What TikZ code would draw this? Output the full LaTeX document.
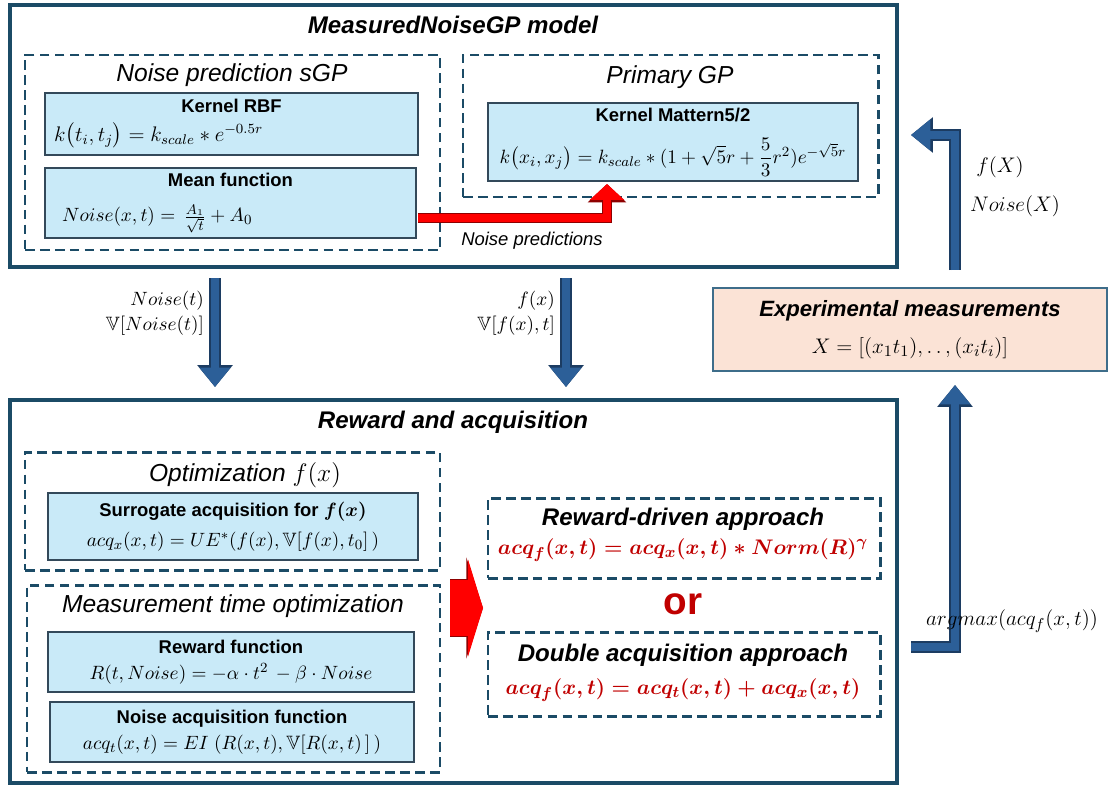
\documentclass[tikz,border=0pt]{standalone}
\usepackage{amsmath,amssymb}
\usepackage[no-math]{fontspec}
\setmainfont{Liberation Sans}
\usepackage{tikz}
\usetikzlibrary{arrows.meta,positioning,fit,calc}
\definecolor{GpNavy}{HTML}{1B4B66}
\definecolor{GpSlate}{HTML}{33495A}
\definecolor{GpSky}{HTML}{C9EAF8}
\definecolor{GpPeach}{HTML}{FBE3D6}
\definecolor{GpPeachEdge}{HTML}{3E6D8A}
\definecolor{GpArrow}{HTML}{2C5F98}
\definecolor{GpArrowDark}{HTML}{1C3C62}
\definecolor{GpRed}{HTML}{FF0000}
\definecolor{GpRedDark}{HTML}{8E0000}
\definecolor{GpWine}{HTML}{C00000}
\newcommand{\boxhead}[1]{{\fontsize{10.5}{13}\selectfont\bfseries #1}}

\begin{document}
\begin{tikzpicture}[
  x=0.02cm,y=-0.02cm,
  outerbox/.style={draw=GpNavy,line width=2pt,inner sep=0pt},
  dashbox/.style={draw=GpNavy,line width=1.7pt,dash pattern=on 5.5pt off 3pt,inner sep=0pt},
  skybox/.style={draw=GpSlate,fill=GpSky,line width=1pt,inner sep=0pt,align=center,
    font=\fontsize{11}{15}\selectfont},
  boxtitle/.style={font=\fontsize{13.7}{16}\selectfont\bfseries\itshape},
  subtitle/.style={font=\fontsize{14}{16}\selectfont\itshape},
  redformula/.style={font=\fontsize{12.3}{15}\selectfont\boldmath,text=GpWine},
  mathlabel/.style={font=\fontsize{11}{14}\selectfont,inner sep=1pt},
  bluearrow/.style={draw=GpArrow,line width=5.1pt,-{Triangle[length=11pt,width=17pt]},
    preaction={draw=GpArrowDark,line width=6.3pt,-{Triangle[length=12.5pt,width=19.5pt]}}},
  redarrow/.style={draw=GpRed,line width=5pt,-{Triangle[length=9pt,width=19pt]},
    preaction={draw=GpRedDark,line width=6.2pt,-{Triangle[length=10.5pt,width=21.5pt]}}}
]
  \useasboundingbox (0,0) rectangle (1113,785);

  % MeasuredNoiseGP model
  \node[outerbox,fit={(10,5) (897,267)}] (gpmodel) {};
  \node[boxtitle] (gptitle) at (453,25) {MeasuredNoiseGP model};

  \node[dashbox,fit={(25,55) (440,250)}] (sgpbox) {};
  \node[subtitle] (sgptitle) at (232,75) {Noise prediction sGP};
  \node[skybox,minimum width=7.46cm,minimum height=1.24cm] (rbfbox) at (231.5,124)
    {\boxhead{Kernel RBF}\\[1pt] \makebox[7.1cm][l]{\fontsize{12}{14}\selectfont$k\bigl(t_i,t_j\bigr)=k_{scale}*e^{-0.5r}$}};
  \node[skybox,minimum width=7.42cm,minimum height=1.4cm] (meanbox) at (230.5,203)
    {\boxhead{Mean function}\\[5pt] \makebox[7.1cm][l]{\hspace{0.18cm}$Noise(x,t)=\,\frac{A_1}{\sqrt{t}}+A_0$}};

  \node[dashbox,fit={(463,55) (878,197)}] (primbox) {};
  \node[subtitle] (primtitle) at (670,77) {Primary GP};
  \node[skybox,minimum width=7.4cm,minimum height=1.56cm] (matbox) at (673,142)
    {\boxhead{Kernel Mattern5/2}\\[9pt] $k\bigl(x_i,x_j\bigr)=k_{scale}*(1+\sqrt{5}r+\dfrac{5}{3}r^2)e^{-\sqrt{5}r}$};

  \coordinate (npstart) at (418,218);
  \coordinate (npend) at (607,184);
  \draw[redarrow] (npstart) -| (npend);
  \node[font=\fontsize{10.5}{12}\selectfont\itshape] (nplabel) at (532,241) {Noise predictions};

  % outputs of the two GPs
  \coordinate (noisetop) at (215,278);
  \coordinate (noisebot) at (215,387);
  \draw[bluearrow] (noisetop) -- (noisebot);
  \node[mathlabel,align=right,anchor=east] (noiselabel) at (206,313)
    {$Noise(t)$\\ $\mathbb{V}[Noise(t)]$};
  \coordinate (ftop) at (566,278);
  \coordinate (fbot) at (566,387);
  \draw[bluearrow] (ftop) -- (fbot);
  \node[mathlabel,align=right,anchor=east] (flabel) at (557,313)
    {$f(x)$\\ $\mathbb{V}[f(x),t]$};

  % measurements
  \node[draw=GpPeachEdge,fill=GpPeach,line width=1pt,inner sep=0pt,align=center,
    minimum width=7.88cm,minimum height=1.66cm] (expbox) at (910,329.5)
    {{\fontsize{12.6}{15}\selectfont\bfseries\itshape Experimental measurements}\\[9pt]
     {\fontsize{12.5}{14}\selectfont $X=[(x_1t_1),.\,.\,,(x_it_i)]$}};
  \coordinate (fxsrc) at (955,270);
  \coordinate (fxdst) at (911,135);
  \draw[bluearrow] (fxsrc) |- (fxdst);
  \node[mathlabel,font=\fontsize{12}{14}\selectfont] (fXlabel) at (1000,167) {$f(X)$};
  \node[mathlabel,font=\fontsize{12}{14}\selectfont] (noiseXlabel) at (1015,206) {$Noise(X)$};
  \coordinate (amsrc) at (911,647);
  \coordinate (amdst) at (955,385);
  \draw[bluearrow] (amsrc) -| (amdst);
  \node[mathlabel,font=\fontsize{12.5}{14}\selectfont] (amlabel) at (1012,621) {$argmax(acq_f(x,t))$};

  % Reward and acquisition
  \node[outerbox,fit={(10,400) (897,783)}] (rabox) {};
  \node[boxtitle] (ratitle) at (453,422) {Reward and acquisition};

  \node[dashbox,fit={(25,452) (440,570)}] (optbox) {};
  \node[subtitle] (opttitle) at (245,475) {Optimization $f(x)$};
  \node[skybox,minimum width=7.4cm,minimum height=1.34cm] (surbox) at (233,526.5)
    {\boxhead{Surrogate acquisition for $\boldsymbol{f(x)}$}\\[2pt]
     $acq_x(x,t)=UE^*(f(x),\mathbb{V}[f(x),t_0]\,)$};

  \node[dashbox,fit={(27,585) (440,772)}] (measbox) {};
  \node[subtitle] (meastitle) at (233,606) {Measurement time optimization};
  \node[skybox,minimum width=7.32cm,minimum height=1.2cm] (rewbox) at (231,662)
    {\boxhead{Reward function}\\ $R(t,Noise)=-\alpha\cdot t^2\,-\beta\cdot Noise$};
  \node[skybox,minimum width=7.28cm,minimum height=1.2cm] (nacqbox) at (232,732)
    {\boxhead{Noise acquisition function}\\ $acq_t(x,t)=EI\ (R(x,t),\mathbb{V}[R(x,t)\,]\,)$};

  \coordinate (blocksrc) at (450,608);
  \coordinate (blockdst) at (483,608);
  \draw[draw=GpRed,line width=32pt,-{Triangle[length=8.5pt,width=55pt]},
    preaction={draw=GpRedDark,line width=33.5pt,-{Triangle[length=9.5pt,width=57.5pt]}}]
    (blocksrc) -- (blockdst);

  \node[dashbox,fit={(488,498) (880,578)}] (rdbox) {};
  \node[boxtitle] (rdtitle) at (683,519) {Reward-driven approach};
  \node[redformula] (rdformula) at (683,550) {$acq_f(x,t)=acq_x(x,t)*Norm(R)^\gamma$};
  \node[font=\fontsize{22}{24}\selectfont\bfseries,text=GpWine] (ortext) at (683,604) {or};
  \node[dashbox,fit={(488,632) (880,716)}] (dabox) {};
  \node[boxtitle] (datitle) at (683,655) {Double acquisition approach};
  \node[redformula] (daformula) at (683,690) {$acq_f(x,t)=acq_t(x,t)+acq_x(x,t)$};
\end{tikzpicture}
\end{document}
